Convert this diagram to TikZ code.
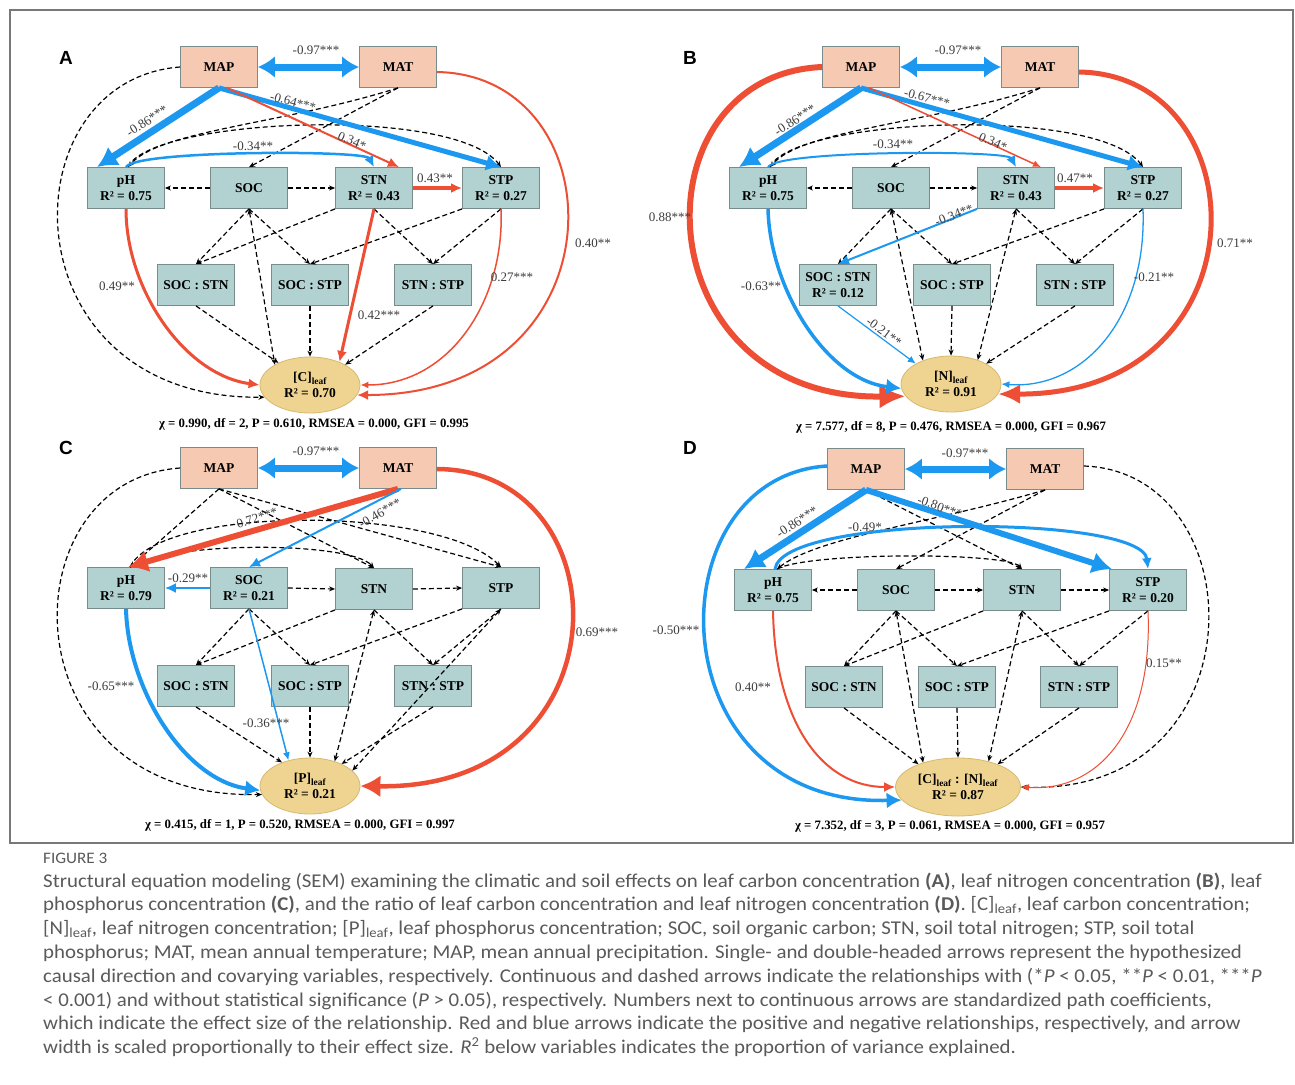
\documentclass[tikz,border=0pt]{standalone}
\usepackage{fontspec}
\setmainfont{Liberation Serif}
\setsansfont{Liberation Sans}
\newfontfamily\capfont[FakeStretch=1.07]{Carlito}
\usetikzlibrary{arrows.meta,shapes.geometric}
\definecolor{soilfill}{RGB}{178,210,209}
\definecolor{climfill}{RGB}{246,201,178}
\definecolor{leaffill}{RGB}{239,212,145}
\definecolor{boxline}{RGB}{120,140,140}
\definecolor{leafline}{RGB}{215,185,110}
\definecolor{redc}{RGB}{238,78,52}
\definecolor{bluec}{RGB}{28,152,240}
\definecolor{coefc}{RGB}{60,60,60}
\definecolor{capc}{RGB}{90,90,90}
\definecolor{framec}{RGB}{120,120,120}
\tikzset{
 bx/.style={draw=boxline, line width=0.8pt, minimum width=77pt, minimum height=41pt, inner sep=1pt, align=center, font=\bfseries\fontsize{13.5}{15.5}\selectfont},
 clim/.style={bx, fill=climfill},
 soil/.style={bx, fill=soilfill},
 leafn/.style={ellipse, draw=leafline, line width=0.8pt, fill=leaffill, minimum width=100pt, minimum height=56pt, inner sep=0pt, align=center, font=\bfseries\fontsize{13.5}{15.5}\selectfont},
 ns/.style={draw=black, line width=1.2pt, dash pattern=on 5pt off 3pt, -{Stealth[length=6pt,width=5pt]}},
 nsb/.style={draw=black, line width=1.2pt, dash pattern=on 5pt off 3pt, {Stealth[length=6pt,width=5pt]}-{Stealth[length=6pt,width=5pt]}},
 redln/.style={draw=redc, line width=#1},
 blueln/.style={draw=bluec, line width=#1},
 tXXL/.style={-{Latex[length=26pt,width=24pt]}},
 tXL/.style={-{Latex[length=20pt,width=22pt]}},
 tL/.style={-{Latex[length=15pt,width=16pt]}},
 tM/.style={-{Latex[length=11pt,width=10pt]}},
 tS/.style={-{Latex[length=8pt,width=7pt]}},
 dbl/.style={{Latex[length=17pt,width=22pt]}-{Latex[length=17pt,width=22pt]}},
 coef/.style={font=\fontsize{13}{13}\selectfont, text=coefc, inner sep=0pt},
 fitt/.style={font=\bfseries\fontsize{12.8}{12.8}\selectfont, inner sep=0pt},
 plab/.style={font=\sffamily\bfseries\fontsize{19}{19}\selectfont, inner sep=0pt},
 capl/.style={anchor=base west, inner sep=0pt, text=capc, font=\capfont\fontsize{19.5}{22}\selectfont},
}
\begin{document}
\begin{tikzpicture}[x=1pt,y=-1pt]
\useasboundingbox (0,0) rectangle (1295,1084);
\fill[white] (0,0) rectangle (1295,1084);
\draw[framec, line width=1.2pt] (10,10) rectangle (1293,843);

% ================= Panel A =================
\begin{scope}
\node[plab] (aL) at (66,58) {A};
\node[clim] (amap) at (219,67) {MAP};
\node[clim] (amat) at (398,67) {MAT};
\node[soil] (aph) at (126,188) {pH\\R² = 0.75};
\node[soil] (asoc) at (249,188) {SOC};
\node[soil] (astn) at (374,188) {STN\\R² = 0.43};
\node[soil] (astp) at (501,188) {STP\\R² = 0.27};
\node[soil] (asn) at (196,285) {SOC : STN};
\node[soil] (asp) at (310,285) {SOC : STP};
\node[soil] (anp) at (433,285) {STN : STP};
\node[leafn] (aleaf) at (310,385) {[C]\textsubscript{leaf}\\R² = 0.70};
\node[fitt] (afit) at (314,424) {χ = 0.990, df = 2, P = 0.610, RMSEA = 0.000, GFI = 0.995};
\draw[ns] (amap.west) .. controls (5,80) and (5,400) .. (aleaf.195);
\draw[ns] (amat.south) -- (asoc.north);
\draw[ns] (amat.south) .. controls (280,125) and (160,130) .. ([xshift=2pt]aph.north);
\draw[ns] ([xshift=2pt]aph.north) .. controls (150,118) and (455,105) .. (astp.north);
\draw[ns] (asoc.west) -- (aph.east);
\draw[ns] (asoc.east) -- (astn.west);
\draw[ns] (asoc.south) -- (asn.north);
\draw[ns] (asoc.south) -- (asp.north);
\draw[nsb] (asoc.south) -- (aleaf.150);
\draw[ns] (astn.south west) -- (asn.north);
\draw[ns] (astp.south west) -- (asp.north);
\draw[ns] (astn.south) -- (anp.north);
\draw[ns] (astp.south) -- (anp.north);
\draw[ns] (asn.south) -- (aleaf.145);
\draw[ns] (asp.south) -- (aleaf.north);
\draw[ns] (anp.south) -- (aleaf.30);
\draw[blueln=7, dbl] (amap.east) -- (amat.west);
\draw[blueln=7, tXL] (amap.south) -- ([xshift=-29pt]aph.north);
\draw[blueln=5, tL] (amap.south) -- (astp.north);
\draw[redln=2, tM] ([xshift=8pt]amap.south) -- ([xshift=25pt]astn.north);
\draw[blueln=2.5, tM] (aph.north) .. controls (135,150) and (365,150) .. (astn.north);
\draw[redln=3.5, tM] (astn.east) -- (astp.west);
\draw[redln=3, tM] (aph.south) .. controls (126,290) and (185,375) .. (aleaf.west);
\draw[redln=3, tM] (astn.south) -- (aleaf.38);
\draw[redln=1.5, tS] (astp.south) .. controls (505,300) and (450,385) .. (aleaf.east);
\draw[redln=2, tM] ([yshift=-5pt]amat.east) .. controls (620,75) and (625,395) .. (aleaf.348);
\node[coef] (a1) at (316,50) {-0.97***};
\node[coef, rotate=33] (a2) at (147,121) {-0.86***};
\node[coef, rotate=-15] (a3) at (293,102) {-0.64***};
\node[coef, rotate=-23] (a4) at (352,141) {0.34*};
\node[coef] (a5) at (253,146) {-0.34**};
\node[coef] (a6) at (435,178) {0.43**};
\node[coef] (a7) at (117,286) {0.49**};
\node[coef] (a8) at (379,315) {0.42***};
\node[coef] (a9) at (512,277) {0.27***};
\node[coef] (a10) at (593,243) {0.40**};
\end{scope}

% ================= Panel B =================
\begin{scope}[shift={(642,0)}]
\node[plab] (bL) at (48,58) {B};
\node[clim] (bmap) at (219,67) {MAP};
\node[clim] (bmat) at (398,67) {MAT};
\node[soil] (bph) at (126,188) {pH\\R² = 0.75};
\node[soil] (bsoc) at (249,188) {SOC};
\node[soil] (bstn) at (374,188) {STN\\R² = 0.43};
\node[soil] (bstp) at (501,188) {STP\\R² = 0.27};
\node[soil] (bsn) at (196,285) {SOC : STN\\R² = 0.12};
\node[soil] (bsp) at (310,285) {SOC : STP};
\node[soil] (bnp) at (433,285) {STN : STP};
\node[leafn] (bleaf) at (309,384) {[N]\textsubscript{leaf}\\R² = 0.91};
\node[fitt] (bfit) at (309,427) {χ = 7.577, df = 8, P = 0.476, RMSEA = 0.000, GFI = 0.967};
\draw[ns] (bmat.south) -- (bsoc.north);
\draw[ns] (bmat.south) .. controls (280,125) and (160,130) .. ([xshift=2pt]bph.north);
\draw[ns] ([xshift=2pt]bph.north) .. controls (150,118) and (455,105) .. (bstp.north);
\draw[ns] (bsoc.west) -- (bph.east);
\draw[ns] (bsoc.east) -- (bstn.west);
\draw[ns] (bsoc.south) -- (bsn.north);
\draw[ns] (bsoc.south) -- (bsp.north);
\draw[nsb] (bsoc.south) -- (bleaf.140);
\draw[nsb] (bstn.south) -- (bleaf.42);
\draw[ns] (bstp.south west) -- (bsp.north);
\draw[ns] (bstn.south) -- (bnp.north);
\draw[ns] (bstp.south) -- (bnp.north);
\draw[ns] (bsp.south) -- (bleaf.north);
\draw[ns] (bnp.south) -- (bleaf.30);
\draw[blueln=7, dbl] (bmap.east) -- (bmat.west);
\draw[redln=6, tXXL] (bmap.west) .. controls (-10,75) and (0,400) .. (bleaf.195);
\draw[redln=5, -{Latex[length=22pt,width=20pt]}] ([yshift=-5pt]bmat.east) .. controls (620,75) and (625,395) .. (bleaf.348);
\draw[blueln=7, tXL] (bmap.south) -- ([xshift=-29pt]bph.north);
\draw[blueln=5, tL] (bmap.south) -- (bstp.north);
\draw[redln=1.5, tS] ([xshift=8pt]bmap.south) -- ([xshift=25pt]bstn.north);
\draw[blueln=2, tM] (bph.north) .. controls (135,150) and (365,150) .. (bstn.north);
\draw[redln=3.5, tM] (bstn.east) -- (bstp.west);
\draw[blueln=2, tM] (bstn.south west) -- (bsn.north);
\draw[blueln=1.2, tS] (bsn.south) -- (bleaf.150);
\draw[blueln=3.5, tL] (bph.south) .. controls (128,290) and (185,380) .. (bleaf.185);
\draw[blueln=1.3, tS] (bstp.south) .. controls (505,320) and (440,390) .. (bleaf.east);
\node[coef] (b1) at (316,50) {-0.97***};
\node[coef, rotate=33] (b2) at (153,120) {-0.86***};
\node[coef, rotate=-15] (b3) at (285,98) {-0.67***};
\node[coef, rotate=-23] (b4) at (351,142) {0.34*};
\node[coef] (b5) at (251,144) {-0.34**};
\node[coef] (b6) at (433,178) {0.47**};
\node[coef, rotate=21] (b7) at (312,215) {-0.34**};
\node[coef, rotate=-37] (b8) at (242,332) {-0.21**};
\node[coef] (b9) at (119,286) {-0.63**};
\node[coef] (b10) at (512,277) {-0.21**};
\node[coef] (b11) at (28,217) {0.88***};
\node[coef] (b12) at (593,243) {0.71**};
\end{scope}

% ================= Panel C =================
\begin{scope}[shift={(0,400)}]
\node[plab] (cL) at (66,48) {C};
\node[clim] (cmap) at (219,68) {MAP};
\node[clim] (cmat) at (398,68) {MAT};
\node[soil] (cph) at (126,188) {pH\\R² = 0.79};
\node[soil] (csoc) at (249,188) {SOC\\R² = 0.21};
\node[soil] (cstn) at (374,189) {STN};
\node[soil] (cstp) at (501,188) {STP};
\node[soil] (csn) at (196,286) {SOC : STN};
\node[soil] (csp) at (310,286) {SOC : STP};
\node[soil] (cnp) at (433,286) {STN : STP};
\node[leafn] (cleaf) at (310,386) {[P]\textsubscript{leaf}\\R² = 0.21};
\node[fitt] (cfit) at (300,425) {χ = 0.415, df = 1, P = 0.520, RMSEA = 0.000, GFI = 0.997};
\draw[ns] (cmap.west) .. controls (5,80) and (5,400) .. (cleaf.190);
\draw[ns] (cmap.south) -- ([xshift=4pt]cph.north);
\draw[ns] (cmap.south) -- (cstn.north);
\draw[ns] (cmap.south) -- (cstp.north);
\draw[ns] ([xshift=4pt]cph.north) .. controls (170,141) and (350,141) .. (cstn.north);
\draw[ns] ([xshift=4pt]cph.north) .. controls (160,105) and (440,105) .. (cstp.north);
\draw[ns] (csoc.east) -- (cstn.west);
\draw[ns] (cstn.east) -- (cstp.west);
\draw[ns] (csoc.south) -- (csn.north);
\draw[ns] (csoc.south) -- (csp.north);
\draw[ns] (cstn.south west) -- (csn.north);
\draw[ns] (cstp.south west) -- (csp.north);
\draw[ns] (cstn.south) -- (cnp.north);
\draw[ns] (cstp.south) -- (cnp.north);
\draw[ns] (csn.south) -- (cleaf.140);
\draw[ns] (csp.south) -- (cleaf.north);
\draw[ns] (cnp.south) -- (cleaf.35);
\draw[nsb] (cstn.south) -- (cleaf.45);
\draw[nsb] (cstp.south) -- (cleaf.20);
\draw[blueln=7, dbl] (cmap.east) -- (cmat.west);
\draw[redln=6, tXL] (cmat.south) -- ([xshift=2pt]cph.north);
\draw[blueln=2, tM] ([xshift=3pt]cmat.south) -- (csoc.north);
\draw[blueln=2, tM] (csoc.west) -- (cph.east);
\draw[blueln=4, tL] (cph.south) .. controls (128,290) and (185,380) .. (cleaf.185);
\draw[blueln=1.5, tS] (csoc.south) -- (cleaf.130);
\draw[redln=4.5, tXL] ([yshift=-1pt]cmat.east) .. controls (625,70) and (630,390) .. (cleaf.east);
\node[coef] (c1) at (316,51) {-0.97***};
\node[coef, rotate=17] (c2) at (257,118) {0.72***};
\node[coef, rotate=30] (c3) at (380,113) {-0.46***};
\node[coef] (c4) at (188,178) {-0.29**};
\node[coef] (c5) at (111,286) {-0.65***};
\node[coef] (c6) at (266,323) {-0.36***};
\node[coef] (c7) at (597,232) {0.69***};
\end{scope}

% ================= Panel D =================
\begin{scope}[shift={(647,402)}]
\node[plab] (dL) at (43,46) {D};
\node[clim] (dmap) at (219,67) {MAP};
\node[clim] (dmat) at (398,67) {MAT};
\node[soil] (dph) at (126,188) {pH\\R² = 0.75};
\node[soil] (dsoc) at (249,188) {SOC};
\node[soil] (dstn) at (375,188) {STN};
\node[soil] (dstp) at (501,188) {STP\\R² = 0.20};
\node[soil] (dsn) at (197,285) {SOC : STN};
\node[soil] (dsp) at (310,285) {SOC : STP};
\node[soil] (dnp) at (432,285) {STN : STP};
\node[leafn, minimum width=125pt, minimum height=58pt] (dleaf) at (311,385) {[C]\textsubscript{leaf} : [N]\textsubscript{leaf}\\R² = 0.87};
\node[fitt] (dfit) at (303,424) {χ = 7.352, df = 3, P = 0.061, RMSEA = 0.000, GFI = 0.957};
\draw[ns] ([yshift=3pt]dmat.east) .. controls (610,70) and (615,395) .. (dleaf.east);
\draw[ns] (dmat.south) -- (dsoc.north);
\draw[ns] (dmat.south) .. controls (290,120) and (170,135) .. ([xshift=4pt]dph.north);
\draw[ns] (dmap.south) -- (dstn.north);
\draw[ns] ([xshift=4pt]dph.north) .. controls (160,150) and (360,150) .. (dstn.north);
\draw[ns] (dsoc.west) -- (dph.east);
\draw[ns] (dsoc.east) -- (dstn.west);
\draw[ns] (dstn.east) -- (dstp.west);
\draw[ns] (dsoc.south) -- (dsn.north);
\draw[ns] (dsoc.south) -- (dsp.north);
\draw[ns] (dstn.south west) -- (dsn.north);
\draw[ns] (dstp.south west) -- (dsp.north);
\draw[ns] (dstn.south) -- (dnp.north);
\draw[ns] (dstp.south) -- (dnp.north);
\draw[ns] (dsn.south) -- (dleaf.150);
\draw[ns] (dsp.south) -- (dleaf.north);
\draw[ns] (dnp.south) -- (dleaf.30);
\draw[nsb] (dsoc.south) -- (dleaf.145);
\draw[nsb] (dstn.south) -- (dleaf.40);
\draw[blueln=7, dbl] (dmap.east) -- (dmat.west);
\draw[blueln=7, tXL] (dmap.south) -- ([xshift=-29pt]dph.north);
\draw[blueln=6, tXL] (dmap.south) -- ([xshift=-36pt]dstp.north);
\draw[blueln=3, tM] ([xshift=2pt]dph.north) .. controls (135,112) and (495,112) .. (dstp.north);
\draw[blueln=3.5, tL] ([yshift=3pt]dmap.west) .. controls (5,75) and (8,405) .. (dleaf.193);
\draw[redln=2, tM] (dph.south) .. controls (128,320) and (175,385) .. (dleaf.west);
\draw[redln=1, tS] (dstp.south) .. controls (506,330) and (450,390) .. (dleaf.east);
\node[coef] (d1) at (318,51) {-0.97***};
\node[coef, rotate=33] (d2) at (150,120) {-0.86***};
\node[coef, rotate=-20] (d3) at (293,105) {-0.80***};
\node[coef] (d4) at (218,125) {-0.49*};
\node[coef] (d5) at (29,228) {-0.50***};
\node[coef] (d6) at (106,285) {0.40**};
\node[coef] (d7) at (517,261) {0.15**};
\end{scope}

% ================= Caption =================
\node[capl, font=\capfont\fontsize{16}{18}\selectfont] (cap0) at (43,863) {FIGURE 3};
\node[capl] (cap1) at (43,887) {Structural equation modeling (SEM) examining the climatic and soil effects on leaf carbon concentration \textbf{(A)}, leaf nitrogen concentration \textbf{(B)}, leaf};
\node[capl] (cap2) at (43,910.8) {phosphorus concentration \textbf{(C)}, and the ratio of leaf carbon concentration and leaf nitrogen concentration \textbf{(D)}. [C]\textsubscript{leaf}, leaf carbon concentration;};
\node[capl] (cap3) at (43,934.6) {[N]\textsubscript{leaf}, leaf nitrogen concentration; [P]\textsubscript{leaf}, leaf phosphorus concentration; SOC, soil organic carbon; STN, soil total nitrogen; STP, soil total};
\node[capl] (cap4) at (43,958.4) {phosphorus; MAT, mean annual temperature; MAP, mean annual precipitation. Single- and double-headed arrows represent the hypothesized};
\node[capl] (cap5) at (43,982.2) {causal direction and covarying variables, respectively. Continuous and dashed arrows indicate the relationships with (*\textit{P} < 0.05, **\textit{P} < 0.01, ***\textit{P}};
\node[capl] (cap6) at (43,1006) {< 0.001) and without statistical significance (\textit{P} > 0.05), respectively. Numbers next to continuous arrows are standardized path coefficients,};
\node[capl] (cap7) at (43,1029.8) {which indicate the effect size of the relationship. Red and blue arrows indicate the positive and negative relationships, respectively, and arrow};
\node[capl] (cap8) at (43,1053.6) {width is scaled proportionally to their effect size. \textit{R}\textsuperscript{2} below variables indicates the proportion of variance explained.};
\end{tikzpicture}
\end{document}
